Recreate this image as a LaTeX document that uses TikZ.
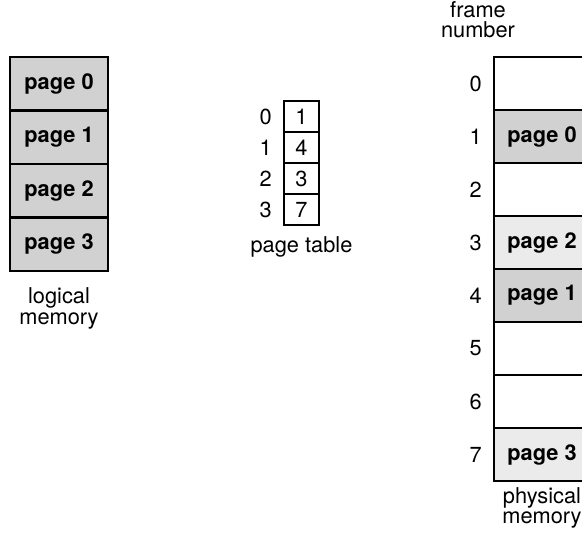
\documentclass[tikz,border=0pt]{standalone}
\usepackage{fontspec}
\setmainfont{TeX Gyre Heros}
\usetikzlibrary{positioning}
\begin{document}
\begin{tikzpicture}[x=0.5pt, y=-0.5pt,
  every node/.style={font=\fontsize{10.9}{10.3}\selectfont},
  cell/.style={draw, line width=0.9pt, minimum width=49pt, minimum height=26.5pt,
    inner sep=0pt, font=\fontsize{10.9}{10.3}\selectfont\bfseries},
  entry/.style={draw, line width=0.9pt, minimum width=17.5pt, minimum height=15.5pt, inner sep=0pt},
  lbl/.style={align=center, inner sep=0pt}]
 \useasboundingbox (0,0) rectangle (582,537);
 \clip (0,0) rectangle (582,537);
 % logical memory
 \foreach \i in {0,...,3}
  \node[cell, fill=black!18] (lp\i) at (59,83.75+53.5*\i) {page \i};
 \node[lbl, below=8pt of lp3] (lmem) {logical\\memory};
 % page table
 \foreach \f [count=\i from 0] in {1,4,3,7} {
  \node[entry] (pt\i) at (301.5,116.5+31*\i) {\f};
  \node[inner sep=0pt, left=5.5pt of pt\i] (ix\i) {\i};
 }
 \node[lbl, below=5pt of pt3] (ptab) {page table};
 % physical memory
 \foreach \i/\pg/\shade in {0//white, 1/page 0/black!18, 2//white, 3/page 2/black!8,
    4/page 1/black!18, 5//white, 6//white, 7/page 3/black!8} {
  \node[cell, fill=\shade, minimum width=48pt] (fr\i) at (542,83.5+53*\i) {\pg};
  \node[inner sep=0pt, left=5.5pt of fr\i] (fn\i) {\i};
 }
 \node[lbl] (fhead) at (478,19.5) {frame\\number};
 \node[lbl, below=2.5pt of fr7] (pmem) {physical\\memory};
\end{tikzpicture}
\end{document}
